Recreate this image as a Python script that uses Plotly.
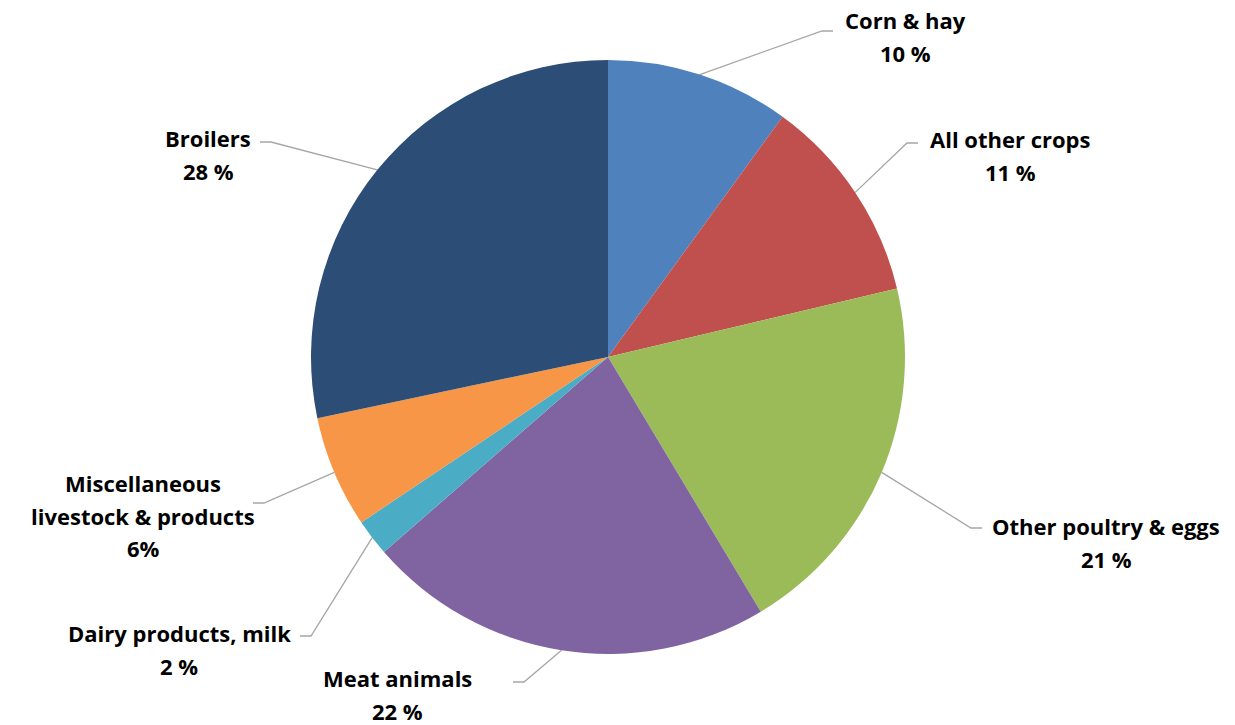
import math
import plotly.graph_objects as go

# ---- data ----
categories = ["Corn & hay", "All other crops", "Other poultry & eggs", "Meat animals",
              "Dairy products, milk", "Miscellaneous livestock & products", "Broilers"]
values = [10.0, 11.3, 20.1, 22.2, 2.0, 6.1, 28.3]
label_lines = [["Corn & hay", "10 %"],
               ["All other crops", "11 %"],
               ["Other poultry & eggs", "21 %"],
               ["Meat animals", "22 %"],
               ["Dairy products, milk", "2 %"],
               ["Miscellaneous", "livestock & products", "6%"],
               ["Broilers", "28 %"]]
colors = ["#4F81BD", "#C0504D", "#9BBB59", "#8064A2", "#4BACC6", "#F79646", "#2C4D75"]

# ---- layout (pixels) ----
W, H = 1235, 725
CX, CY, R = 608, 357, 297
# leader line end points (label side) and label block centre / first-line y
leader_end = [(833, 31), (918, 143), (982, 528), (513, 682), (300, 636), (253, 503), (260, 142)]
label_pos = [(905, 20), (1010, 139), (1106, 526), (397, 678), (179, 633), (143, 483), (208, 138)]
LINE_H = 32.5
ELBOW = 11

fig = go.Figure()
fig.add_trace(go.Pie(
    labels=categories, values=values, sort=False, direction="clockwise", rotation=0,
    marker=dict(colors=colors, line=dict(width=0)), textinfo="none", hoverinfo="label+percent",
    showlegend=False,
    domain=dict(x=[(CX - R) / W, (CX + R) / W], y=[1 - (CY + R) / H, 1 - (CY - R) / H]),
))

total = sum(values)
cum = 0
annotations = []
for i, v in enumerate(values):
    mid = (cum + v / 2) / total * 2 * math.pi
    cum += v
    sx = CX + R * math.sin(mid)
    sy = CY - R * math.cos(mid)
    ex, ey = leader_end[i]
    side = 1 if ex > CX else -1
    elx = ex - side * ELBOW
    fig.add_trace(go.Scatter(
        x=[sx, elx, ex], y=[sy, ey, ey], mode="lines",
        line=dict(color="#A6A6A6", width=1.3), hoverinfo="skip", showlegend=False,
        xaxis="x", yaxis="y"))
    lx, ly = label_pos[i]
    for j, t in enumerate(label_lines[i]):
        annotations.append(dict(
            x=lx, y=ly + j * LINE_H, xref="x", yref="y", text="<b>" + t + "</b>",
            showarrow=False, xanchor="center", yanchor="middle",
            font=dict(family="Open Sans", size=22, color="#000000")))

fig.update_layout(
    width=W, height=H, margin=dict(l=0, r=0, t=0, b=0),
    paper_bgcolor="white", plot_bgcolor="rgba(0,0,0,0)",
    xaxis=dict(range=[0, W], visible=False, fixedrange=True, domain=[0, 1]),
    yaxis=dict(range=[H, 0], visible=False, fixedrange=True, domain=[0, 1]),
    annotations=annotations,
)
fig.write_html("out.html", config={"displayModeBar": False},
               post_script="document.body.style.margin='0px';")
